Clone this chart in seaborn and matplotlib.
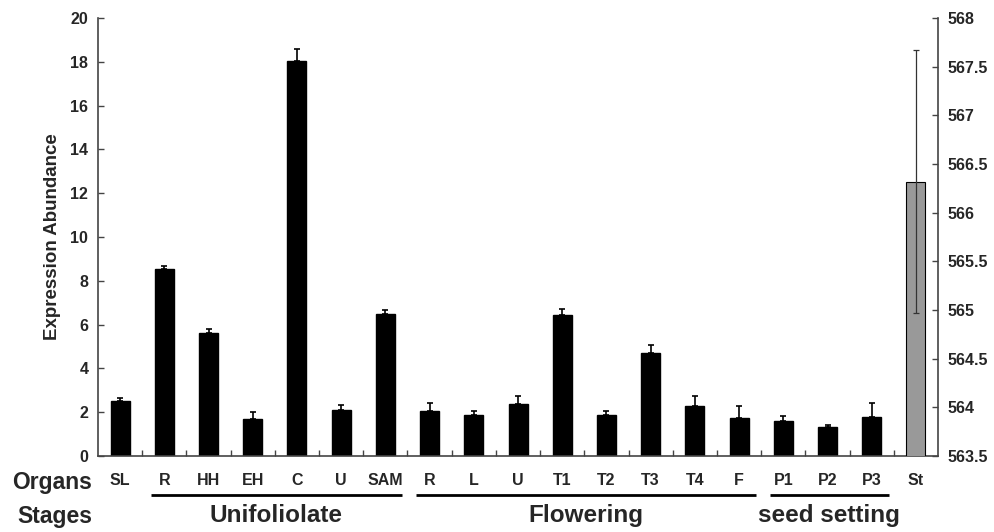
import numpy as np
import pandas as pd
import seaborn as sns
import matplotlib.pyplot as plt
import matplotlib.transforms as mtransforms

organs = ['SL', 'R', 'HH', 'EH', 'C', 'U', 'SAM', 'R', 'L', 'U',
          'T1', 'T2', 'T3', 'T4', 'F', 'P1', 'P2', 'P3', 'St']
abundance = [2.5, 8.55, 5.6, 1.68, 18.05, 2.12, 6.5, 2.05, 1.88, 2.36,
             6.42, 1.86, 4.69, 2.27, 1.73, 1.58, 1.31, 1.77]
errors = [0.13, 0.13, 0.2, 0.34, 0.53, 0.2, 0.15, 0.38, 0.18, 0.38,
          0.27, 0.18, 0.39, 0.46, 0.55, 0.24, 0.12, 0.64]
st_value = 566.32
st_error = 1.35
stages = ['Unifoliolate', 'Flowering', 'seed setting']
stage_first = [1, 7, 15]
stage_last = [6, 14, 17]
left_ticks = np.arange(0, 21, 2)
right_ticks = np.arange(563.5, 568.01, 0.5)

sns.set_style("ticks")
plt.rcParams['font.family'] = ['Liberation Sans', 'DejaVu Sans']
plt.rcParams['font.weight'] = 'bold'

ids = [f'{i}_{o}' for i, o in enumerate(organs)]
df = pd.DataFrame({'organ': ids[:-1], 'value': abundance})
df_st = pd.DataFrame({'organ': ids[-1:], 'value': [st_value]})

fig, ax = plt.subplots(figsize=(9.94, 5.32), dpi=100)
fig.subplots_adjust(left=0.0986, right=0.9437, top=0.966, bottom=0.143)

sns.barplot(data=df, x='organ', y='value', order=ids, color='black',
            saturation=1, width=0.43, edgecolor='black', ax=ax)
xs = [p.get_x() + p.get_width() / 2 for p in ax.patches]
ax.errorbar(xs, abundance, yerr=[np.zeros(len(errors)), errors], fmt='none',
            ecolor='black', elinewidth=1.2, capsize=2.5, capthick=1.2)

ax2 = ax.twinx()
sns.barplot(data=df_st, x='organ', y='value', order=ids, color='#999999',
            saturation=1, width=0.43, edgecolor='black', linewidth=0.8, ax=ax2)
ax2.errorbar([len(ids) - 1], [st_value], yerr=[st_error], fmt='none',
             ecolor='#333333', elinewidth=0.9, capsize=2.5, capthick=0.9)

ax.set_ylim(0, 20)
ax.set_yticks(left_ticks, labels=[f'{v:g}' for v in left_ticks],
              fontsize=11.5, fontweight='bold')
ax2.set_ylim(563.5, 568)
ax2.set_yticks(right_ticks, labels=[f'{v:g}' for v in right_ticks],
               fontsize=11.5, fontweight='bold')
ax.set_xlim(-0.5, len(ids) - 0.5)

ax.set_xlabel('')
ax2.set_xlabel('')
ax2.set_ylabel('')
ax.set_ylabel('Expression Abundance', fontsize=13.5, fontweight='bold', labelpad=7)

ax.set_xticks(range(len(ids)), labels=organs, fontsize=11.5, fontweight='bold')
ax.set_xticks(np.arange(0.5, len(ids) - 1, 1), minor=True)
ax.tick_params(axis='x', which='major', length=0, pad=12)
ax.tick_params(axis='x', which='minor', direction='in', length=4, width=1, color='#444444')
ax.tick_params(axis='y', direction='in', length=4, width=1, color='#444444', pad=7)
ax2.tick_params(axis='y', direction='in', length=4, width=1, color='#444444', pad=7)

for a in (ax, ax2):
    a.spines['top'].set_visible(False)
    for s in a.spines.values():
        s.set_color('#444444')
        s.set_linewidth(1.2)
ax.spines['right'].set_visible(False)
ax2.spines['left'].set_visible(False)
ax2.spines['bottom'].set_visible(False)

trans = mtransforms.blended_transform_factory(ax.transData, ax.transAxes)
for name, i0, i1 in zip(stages, stage_first, stage_last):
    ax.plot([i0 - 0.3, i1 + 0.38], [-0.089, -0.089], color='black', lw=2,
            transform=trans, clip_on=False, solid_capstyle='butt')
    ax.text((i0 + i1) / 2 + 0.03, -0.137, name, transform=trans, ha='center',
            va='center', fontsize=17.5, fontweight='bold')

fig.text(0.093, 1 - 482 / 532, 'Organs', ha='right', va='center',
         fontsize=16.5, fontweight='bold')
fig.text(0.093, 1 - 516 / 532, 'Stages', ha='right', va='center',
         fontsize=16.5, fontweight='bold')

fig.savefig('out.png', dpi=100)
